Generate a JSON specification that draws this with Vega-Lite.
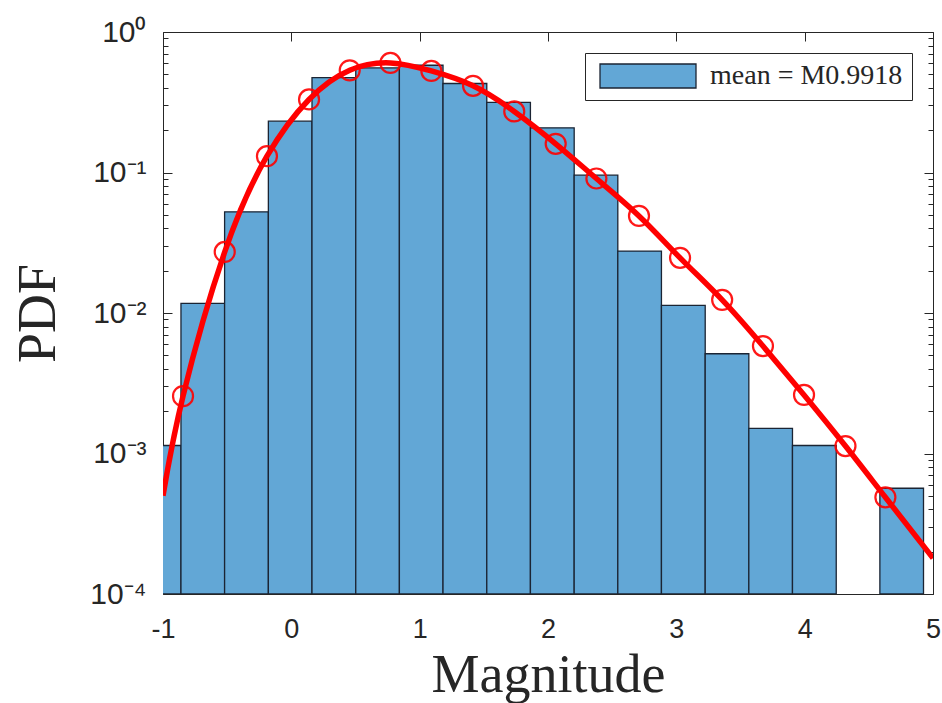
{
  "$schema": "https://vega.github.io/schema/vega-lite/v6.json",
  "width": 770,
  "height": 562,
  "autosize": {"type": "none"},
  "padding": {"left": 163, "top": 32, "right": 9, "bottom": 109},
  "background": "white",
  "config": {
    "view": {"stroke": null},
    "axis": {"grid": false, "domainColor": "#262626", "domainWidth": 1, "tickColor": "#262626", "tickWidth": 1, "labelColor": "#262626", "labelFont": "Liberation Sans", "labelFontSize": 27, "titleColor": "#262626", "titleFont": "Liberation Serif", "titleFontWeight": "normal", "labelOverlap": false, "labelFlush": false}
  },
  "datasets": {
    "bins": [
      {"x0": -1.200, "x1": -0.860, "pdf": 0.00114, "label": "mean = M0.9918"},
      {"x0": -0.860, "x1": -0.520, "pdf": 0.0117, "label": "mean = M0.9918"},
      {"x0": -0.520, "x1": -0.179, "pdf": 0.0525, "label": "mean = M0.9918"},
      {"x0": -0.179, "x1": 0.161, "pdf": 0.232, "label": "mean = M0.9918"},
      {"x0": 0.161, "x1": 0.502, "pdf": 0.474, "label": "mean = M0.9918"},
      {"x0": 0.502, "x1": 0.842, "pdf": 0.555, "label": "mean = M0.9918"},
      {"x0": 0.842, "x1": 1.182, "pdf": 0.580, "label": "mean = M0.9918"},
      {"x0": 1.182, "x1": 1.523, "pdf": 0.430, "label": "mean = M0.9918"},
      {"x0": 1.523, "x1": 1.863, "pdf": 0.316, "label": "mean = M0.9918"},
      {"x0": 1.863, "x1": 2.204, "pdf": 0.208, "label": "mean = M0.9918"},
      {"x0": 2.204, "x1": 2.544, "pdf": 0.0957, "label": "mean = M0.9918"},
      {"x0": 2.544, "x1": 2.884, "pdf": 0.0276, "label": "mean = M0.9918"},
      {"x0": 2.884, "x1": 3.225, "pdf": 0.01133, "label": "mean = M0.9918"},
      {"x0": 3.225, "x1": 3.565, "pdf": 0.00513, "label": "mean = M0.9918"},
      {"x0": 3.565, "x1": 3.905, "pdf": 0.00151, "label": "mean = M0.9918"},
      {"x0": 3.905, "x1": 4.246, "pdf": 0.00114, "label": "mean = M0.9918"},
      {"x0": 4.586, "x1": 4.926, "pdf": 0.000566, "label": "mean = M0.9918"}
    ],
    "fit": [
      {"x": -1.0, "pdf": 0.0005, "m": 0},
      {"x": -0.844, "pdf": 0.00256, "m": 1},
      {"x": -0.519, "pdf": 0.0272, "m": 1},
      {"x": -0.190, "pdf": 0.1306, "m": 1},
      {"x": 0.138, "pdf": 0.331, "m": 1},
      {"x": 0.455, "pdf": 0.534, "m": 1},
      {"x": 0.772, "pdf": 0.602, "m": 1},
      {"x": 1.091, "pdf": 0.528, "m": 1},
      {"x": 1.416, "pdf": 0.414, "m": 1},
      {"x": 1.737, "pdf": 0.272, "m": 1},
      {"x": 2.060, "pdf": 0.160, "m": 1},
      {"x": 2.377, "pdf": 0.0906, "m": 1},
      {"x": 2.709, "pdf": 0.0491, "m": 1},
      {"x": 3.029, "pdf": 0.0247, "m": 1},
      {"x": 3.357, "pdf": 0.0124, "m": 1},
      {"x": 3.675, "pdf": 0.00582, "m": 1},
      {"x": 3.995, "pdf": 0.00261, "m": 1},
      {"x": 4.318, "pdf": 0.00113, "m": 1},
      {"x": 4.629, "pdf": 0.000488, "m": 1},
      {"x": 5.0, "pdf": 0.00018, "m": 0}
    ]
  },
  "resolve": {"axis": {"x": "independent", "y": "independent"}},
  "layer": [
    {
      "data": {"name": "bins"},
      "mark": {"type": "rect", "clip": true, "stroke": "#1b2433", "strokeWidth": 1.3},
      "encoding": {
        "x": {"field": "x0", "type": "quantitative",
          "scale": {"domain": [-1, 5], "nice": false, "zero": false},
          "axis": {"orient": "bottom", "values": [-1, 0, 1, 2, 3, 4, 5], "labelExpr": "datum.value < 0 ? '-' + abs(datum.value) : '' + datum.value", "tickSize": -9, "labelPadding": 31, "title": "Magnitude", "titleFontSize": 54, "titlePadding": 6}},
        "x2": {"field": "x1"},
        "y": {"field": "pdf", "type": "quantitative",
          "scale": {"type": "log", "domain": [0.0001, 1], "nice": false},
          "axis": {"orient": "left",
            "values": [0.0001, 0.0002, 0.0003, 0.0004, 0.0005, 0.0006, 0.0007, 0.0008, 0.0009, 0.001, 0.002, 0.003, 0.004, 0.005, 0.006, 0.007, 0.008, 0.009, 0.01, 0.02, 0.03, 0.04, 0.05, 0.06, 0.07, 0.08, 0.09, 0.1, 0.2, 0.3, 0.4, 0.5, 0.6, 0.7, 0.8, 0.9, 1],
            "tickSize": {"condition": {"test": "datum.value == 1 || datum.value == 0.1 || datum.value == 0.01 || datum.value == 0.001 || datum.value == 0.0001", "value": -9}, "value": -5},
            "labelExpr": "datum.value == 1 ? '10⁰' : datum.value == 0.1 ? '10⁻¹' : datum.value == 0.01 ? '10⁻²' : datum.value == 0.001 ? '10⁻³' : datum.value == 0.0001 ? '10⁻⁴' : ''",
            "labelFontSize": 30, "labelPadding": 26, "labelBaseline": "middle", "title": "PDF", "titleFontSize": 54, "titlePadding": 24}},
        "y2": {"datum": 0.0001},
        "fill": {"field": "label", "type": "nominal", "scale": {"range": ["#62a7d6"]},
          "legend": {"title": null, "orient": "top-right", "offset": 21, "strokeColor": "#262626", "fillColor": "white", "padding": 9,
            "symbolType": "M-4,-1H4V1H-4Z", "symbolSize": 576, "symbolOffset": 40, "symbolStrokeColor": "#1b2433", "symbolStrokeWidth": 1.3, "symbolOpacity": 1,
            "labelFont": "Liberation Serif", "labelFontSize": 28, "labelOffset": 48, "labelColor": "#262626", "labelLimit": 400}}
      }
    },
    {
      "data": {"name": "fit"},
      "mark": {"type": "line", "interpolate": "natural", "color": "#ff0000", "strokeWidth": 5.5, "clip": true},
      "encoding": {
        "x": {"field": "x", "type": "quantitative",
          "scale": {"domain": [-1, 5], "nice": false, "zero": false},
          "axis": {"orient": "top", "values": [-1, 0, 1, 2, 3, 4, 5], "labels": false, "tickSize": -9, "title": null}},
        "y": {"field": "pdf", "type": "quantitative",
          "scale": {"type": "log", "domain": [0.0001, 1], "nice": false},
          "axis": {"orient": "right",
            "values": [0.0001, 0.0002, 0.0003, 0.0004, 0.0005, 0.0006, 0.0007, 0.0008, 0.0009, 0.001, 0.002, 0.003, 0.004, 0.005, 0.006, 0.007, 0.008, 0.009, 0.01, 0.02, 0.03, 0.04, 0.05, 0.06, 0.07, 0.08, 0.09, 0.1, 0.2, 0.3, 0.4, 0.5, 0.6, 0.7, 0.8, 0.9, 1],
            "tickSize": {"condition": {"test": "datum.value == 1 || datum.value == 0.1 || datum.value == 0.01 || datum.value == 0.001 || datum.value == 0.0001", "value": -9}, "value": -5},
            "labels": false, "title": null}}
      }
    },
    {
      "data": {"name": "fit"},
      "transform": [{"filter": "datum.m == 1"}],
      "mark": {"type": "point", "shape": "circle", "filled": false, "size": 400, "stroke": "#ff0000", "strokeWidth": 2.2, "opacity": 0.9},
      "encoding": {
        "x": {"field": "x", "type": "quantitative", "axis": null},
        "y": {"field": "pdf", "type": "quantitative", "axis": null}
      }
    }
  ]
}
